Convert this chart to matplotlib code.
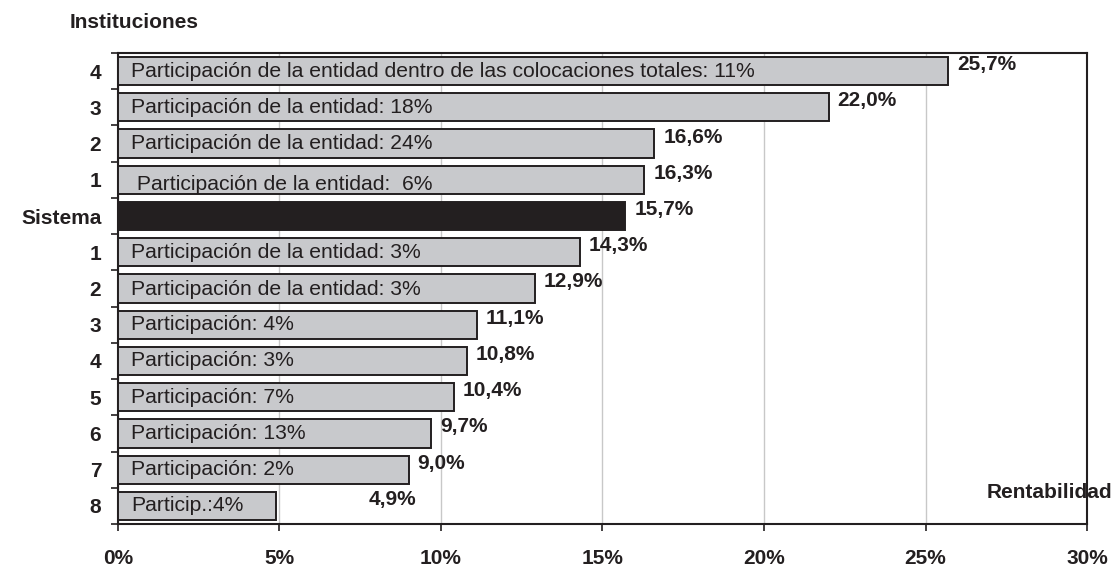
import numpy as np
import matplotlib.pyplot as plt
from matplotlib.ticker import FixedLocator, FuncFormatter

plt.rcParams['font.family'] = ['Liberation Sans', 'DejaVu Sans']

# data, top to bottom
categorias = ['4', '3', '2', '1', 'Sistema', '1', '2', '3', '4', '5', '6', '7', '8']
rentabilidad = [25.7, 22.0, 16.6, 16.3, 15.7, 14.3, 12.9, 11.1, 10.8, 10.4, 9.7, 9.0, 4.9]
notas = ['Participación de la entidad dentro de las colocaciones totales: 11%',
         'Participación de la entidad: 18%',
         'Participación de la entidad: 24%',
         ' Participación de la entidad:  6%',
         '',
         'Participación de la entidad: 3%',
         'Participación de la entidad: 3%',
         'Participación: 4%',
         'Participación: 3%',
         'Participación: 7%',
         'Participación: 13%',
         'Participación: 2%',
         'Particip.:4%']

gris = '#c8c9cc'
oscuro = '#231f20'

fig = plt.figure(figsize=(11.15, 5.68), dpi=100)
ax = fig.add_axes([0.1058, 0.0775, 0.9749 - 0.1058, 0.9067 - 0.0775])

y = np.arange(len(categorias))
colores = [oscuro if c == 'Sistema' else gris for c in categorias]
ax.barh(y, rentabilidad, height=0.78, color=colores, edgecolor=oscuro, linewidth=1.4, zorder=3)

# notes inside the bars (row "1" above Sistema sits a bit lower, like in the original)
bajada = [0, 0, 0, 0.14, 0, 0, 0.04, 0, 0, 0, 0, 0, 0]
for yi, n, d in zip(y, notas, bajada):
    if n:
        ax.text(0.4, yi + d, n, va='center', ha='left', fontsize=15.2, color=oscuro, zorder=4)

# value labels
for yi, v in zip(y, rentabilidad):
    dx = 2.85 if v < 5 else 0.28
    ax.text(v + dx, yi - 0.18, f'{v:.1f}%'.replace('.', ','), va='center', ha='left',
            fontsize=15, fontweight='bold', color=oscuro, zorder=4)

ax.set_xlim(0, 30)
ax.set_ylim(len(categorias) - 0.5, -0.5)
ax.xaxis.set_major_locator(FixedLocator([0, 5, 10, 15, 20, 25, 30]))
ax.xaxis.set_major_formatter(FuncFormatter(lambda v, p: f'{v:.0f}%'))
ax.grid(axis='x', color='#c8c8c8', linewidth=1, zorder=0)

ax.set_yticks(y)
ax.set_yticklabels(categorias)
ax.set_yticks(np.arange(len(categorias) + 1) - 0.5, minor=True)
ax.tick_params(axis='y', which='major', length=0, pad=12, labelsize=15)
ax.tick_params(axis='y', which='minor', length=5, width=1.2, color=oscuro)
ax.tick_params(axis='x', length=5, width=1.2, color=oscuro, pad=13, labelsize=15)
for t in ax.get_yticklabels() + ax.get_xticklabels():
    t.set_fontweight('bold')
    t.set_color(oscuro)

for s in ax.spines.values():
    s.set_color(oscuro)
    s.set_linewidth(1.5)

fig.text(70 / 1115, 1 - 23 / 568, 'Instituciones', fontsize=15, fontweight='bold',
         color=oscuro, va='center', ha='left')
fig.text(1112 / 1115, 1 - 492 / 568, 'Rentabilidad', fontsize=15, fontweight='bold',
         color=oscuro, va='center', ha='right')

fig.savefig('out.png', dpi=100)
